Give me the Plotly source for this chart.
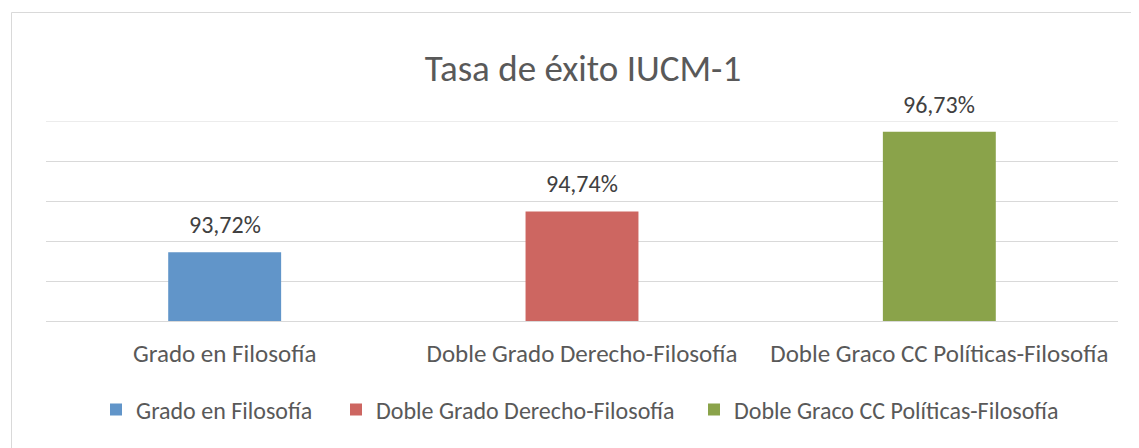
import plotly.graph_objects as go

categories = ["Grado en Filosofía", "Doble Grado Derecho-Filosofía", "Doble Graco CC Políticas-Filosofía"]
values = [93.72, 94.74, 96.73]
colors = ["#6195C9", "#CD6661", "#8AA34A"]
title_text = "Tasa de éxito IUCM-1"
y_min, y_max = 92, 97

FONT = "Calibri, Carlito, Lato, sans-serif"
# page body has an 8px margin, so the figure is sized/offset to compensate
W, H = 1131, 440
L, R, T, B = 38, 21, 113, 127
pw = W - L - R
ph = H - T - B
base_y = T + ph  # pixel y of the plot bottom

fig = go.Figure()
legend_px = [88, 328, 686]
legend_names = ["legend", "legend2", "legend3"]
for i, (c, v, col) in enumerate(zip(categories, values, colors)):
    fig.add_trace(go.Bar(
        x=[c], y=[v], name=c, marker=dict(color=col, line=dict(width=0)),
        width=0.316, legend=legend_names[i], showlegend=True,
    ))

for c, v in zip(categories, values):
    fig.add_annotation(x=c, y=v, text=f"{v:.2f}%".replace(".", ","), showarrow=False,
                       yanchor="bottom", yshift=11,
                       font=dict(family=FONT, size=24, color="#404040"))

legend_common = dict(orientation="h", yanchor="middle", y=(base_y - 402) / ph, xanchor="left",
                     font=dict(family=FONT, size=24, color="#595959"), bgcolor="rgba(0,0,0,0)",
                     borderwidth=0)
layout_legends = {}
for name, px in zip(legend_names, legend_px):
    d = dict(legend_common)
    d["x"] = (px - L) / pw
    layout_legends[name] = d

fig.update_layout(
    width=W, height=H,
    margin=dict(l=L, r=R, t=T, b=B, autoexpand=False),
    paper_bgcolor="white", plot_bgcolor="white",
    title=dict(text=title_text, x=(575 - L) / pw, xref="paper", xanchor="center",
               y=1 - 60 / H, yanchor="middle",
               font=dict(family=FONT, size=37, color="#595959")),
    barmode="overlay",
    xaxis=dict(type="category", showgrid=False, showline=True, linecolor="#d9d9d9", linewidth=1,
               ticks="outside", ticklen=10, tickcolor="rgba(0,0,0,0)",
               tickfont=dict(family=FONT, size=25, color="#595959"), zeroline=False),
    yaxis=dict(range=[y_min, y_max], dtick=1, tick0=y_min, showgrid=True, gridcolor="#d9d9d9", gridwidth=1,
               showticklabels=False, zeroline=False, showline=False),
    showlegend=True,
    **layout_legends,
)

# top gridline at the range maximum (plotly skips gridlines on the plot edge)
fig.add_shape(type="line", xref="paper", yref="y", x0=0, x1=1, y0=y_max, y1=y_max,
              line=dict(color="#d9d9d9", width=1), layer="below")

fig.add_shape(type="rect", xref="paper", yref="paper",
              x0=(3.5 - L) / pw, x1=(W + 10 - L) / pw,
              y0=(base_y - (H + 10)) / ph, y1=(base_y - 4.5) / ph,
              line=dict(color="#d9d9d9", width=1), fillcolor="rgba(0,0,0,0)", layer="below")

fig.write_html("out.html")
